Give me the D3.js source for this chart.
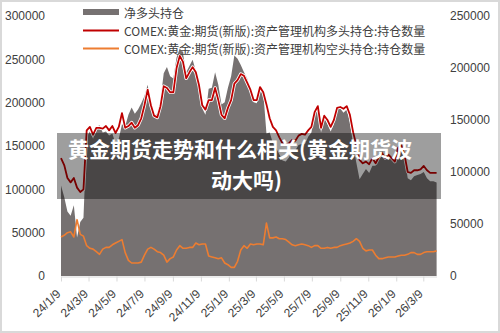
<!DOCTYPE html>
<html><head><meta charset="utf-8">
<script src="https://cdn.jsdelivr.net/npm/d3@7"></script>
<style>html,body{margin:0;padding:0;background:#fff;}svg{display:block;font-family:"Noto Sans CJK SC","Noto Sans",sans-serif;}</style>
</head><body><svg id="c" width="500" height="333"></svg>
<script>
const startDate = new Date(2024, 0, 9);
const netLong = [87000,76000,62000,58000,68000,37000,52000,56000,134000,139000,
132000,143000,145000,138000,139000,135000,137000,127000,132000,146000,
144000,155000,162000,156000,160000,166000,173000,184000,163000,154000,
156000,169000,195000,201000,192000,190000,210000,219000,214000,196000,
202000,208000,197000,185000,161000,155000,180000,181000,196000,184000,
165000,167000,181000,192000,212000,209000,203000,196000,190000,178000,
167000,166000,181000,177000,137000,138000,128000,123000,117000,111000,
110000,114000,121000,121000,126000,127000,127000,134000,138000,155000,
162000,138000,152000,146000,139000,146000,161000,161000,157000,160000,
148000,126000,109000,93000,98000,103000,99000,106000,106000,117000,
122000,115000,117000,114000,110000,125000,127000,115000,94000,92000,
96000,97000,98000,100000,94000,91000,91000,90000];
const longPos = [136000,128000,113000,108000,113000,102000,97000,100000,168000,172000,
163000,171000,171000,170000,173000,168000,173000,165000,172000,188000,
171000,173000,177000,171000,174000,182000,197000,215000,197000,185000,
183000,196000,219000,217000,212000,212000,240000,254000,247000,228000,
235000,241000,235000,220000,197000,192000,203000,203000,217000,203000,
186000,182000,194000,203000,222000,226000,233000,231000,223000,215000,
203000,203000,218000,212000,198000,182000,172000,168000,160000,153000,
151000,153000,157000,156000,162000,164000,163000,168000,172000,189000,
196000,171000,185000,180000,172000,180000,194000,195000,193000,196000,
186000,166000,151000,134000,130000,132000,129000,136000,130000,137000,
142000,136000,140000,136000,132000,148000,151000,140000,120000,119000,
122000,122000,123000,127000,122000,119000,119000,119000];
const shortPos = [45000,47000,50000,51000,45000,65000,48000,46000,35000,32000,
31000,28000,25000,31000,33000,33000,36000,38000,40000,42000,
27000,18000,15000,15000,15000,16000,24000,31000,33000,31000,
28000,27000,24000,16000,20000,22000,30000,35000,32000,32000,
33000,33000,38000,36000,37000,37000,23000,22000,21000,20000,
21000,15000,13000,10000,10000,17000,30000,35000,32000,37000,
36000,37000,37000,36000,61000,44000,44000,45000,43000,43000,
42000,39000,36000,35000,36000,37000,36000,35000,33000,35000,
35000,32000,32000,33000,32000,33000,33000,35000,36000,37000,
38000,40000,43000,40000,32000,29000,30000,30000,24000,20000,
20000,21000,22000,22000,22000,23000,24000,24000,25000,27000,
27000,25000,25000,27000,28000,28000,28000,29000];
const tickLabels = ["24/1/9","24/3/9","24/5/9","24/7/9","24/9/9","24/11/9","25/1/9","25/3/9","25/5/9","25/7/9","25/9/9","25/11/9","26/1/9","26/3/9"];
const leftTicks = [0,50000,100000,150000,200000,250000,300000];
const rightTicks = [0,50000,100000,150000,200000,250000];
const legendLabels = ["净多头持仓","COMEX:黄金:期货(新版):资产管理机构多头持仓:持仓数量","COMEX:黄金:期货(新版):资产管理机构空头持仓:持仓数量"];
const titleLines = ["黄金期货走势和什么相关(黄金期货波","动大吗)"];

const dates = netLong.map((_, i) => d3.timeDay.offset(startDate, 7 * i));
const tickDates = tickLabels.map(s => { const [yy, m, d] = s.split("/").map(Number); return new Date(2000 + yy, m - 1, d); });

const svg = d3.select("#c");
svg.append("rect").attr("x",1).attr("y",1).attr("width",498).attr("height",331).attr("fill","#fff").attr("stroke","#d9d9d9").attr("stroke-width",2);

const x = d3.scaleTime().domain([dates[0], dates[dates.length-1]]).range([61, 436.6]);
const yL = d3.scaleLinear().domain([0,300000]).range([276,16]);
const yR = d3.scaleLinear().domain([0,250000]).range([276,16]);

// area
svg.append("path").datum(netLong)
  .attr("fill","#767171")
  .attr("d", d3.area().x((d,i)=>x(dates[i])).y0(yR(0)).y1(d=>yR(d)));

// orange line
svg.append("path").datum(shortPos).attr("fill","none").attr("stroke","#ed7d31").attr("stroke-width",1.6).attr("stroke-linejoin","round")
  .attr("d", d3.line().x((d,i)=>x(dates[i])).y(d=>yL(d)));
// red line with white halo
const redLine = d3.line().x((d,i)=>x(dates[i])).y(d=>yL(d));
svg.append("path").datum(longPos).attr("fill","none").attr("stroke","#fff").attr("stroke-width",3.4).attr("stroke-linejoin","round").attr("d", redLine);
svg.append("path").datum(longPos).attr("fill","none").attr("stroke","#c00000").attr("stroke-width",1.8).attr("stroke-linejoin","round").attr("d", redLine);

// axes
const gx = svg.append("g").attr("transform","translate(0,276.5)")
  .call(d3.axisBottom(x).tickValues(tickDates).tickFormat((d,i)=>tickLabels[i]).tickSize(5).tickSizeOuter(0));
gx.select(".domain").attr("stroke","#d9d9d9");
gx.selectAll(".tick line").attr("stroke","#d9d9d9");
gx.selectAll(".tick text").attr("fill","#404040").attr("font-size",12)
  .attr("text-anchor","end").attr("x",0).attr("y",0).attr("dy","0.35em")
  .attr("transform","translate(-3,15) rotate(-45)");

const gl = svg.append("g").attr("transform","translate(47,0)")
  .call(d3.axisLeft(yL).tickValues(leftTicks).tickSize(0).tickPadding(2).tickFormat(d3.format("d")));
gl.select(".domain").remove();
gl.selectAll("text").attr("fill","#404040").attr("font-size",12);

const gr = svg.append("g").attr("transform","translate(448,0)")
  .call(d3.axisRight(yR).tickValues(rightTicks).tickSize(0).tickPadding(2).tickFormat(d3.format("d")));
gr.select(".domain").remove();
gr.selectAll("text").attr("fill","#404040").attr("font-size",12);

// legend
const lg = svg.append("g");
const rows = [12, 30.5, 48.5];
lg.append("rect").attr("x",83).attr("y",9).attr("width",36).attr("height",6).attr("fill","#767171");
lg.append("line").attr("x1",83).attr("x2",119).attr("y1",rows[1]).attr("y2",rows[1]).attr("stroke","#c00000").attr("stroke-width",2);
lg.append("line").attr("x1",83).attr("x2",119).attr("y1",rows[2]).attr("y2",rows[2]).attr("stroke","#ed7d31").attr("stroke-width",2);
legendLabels.forEach((t,i)=>{
  lg.append("text").attr("x",124).attr("y",rows[i]).attr("dominant-baseline","central")
    .attr("font-size",12).attr("fill","#404040").text(t);
});

// title band overlay
svg.append("rect").attr("x",57).attr("y",133).attr("width",384).attr("height",66).attr("fill","rgba(0,0,0,0.38)");
svg.append("text").attr("x",68).attr("y",157).attr("font-size",21).attr("font-weight","bold").attr("fill","#fff").text(titleLines[0]);
svg.append("text").attr("x",211).attr("y",188).attr("font-size",21).attr("font-weight","bold").attr("fill","#fff").text(titleLines[1]);
</script></body></html>
